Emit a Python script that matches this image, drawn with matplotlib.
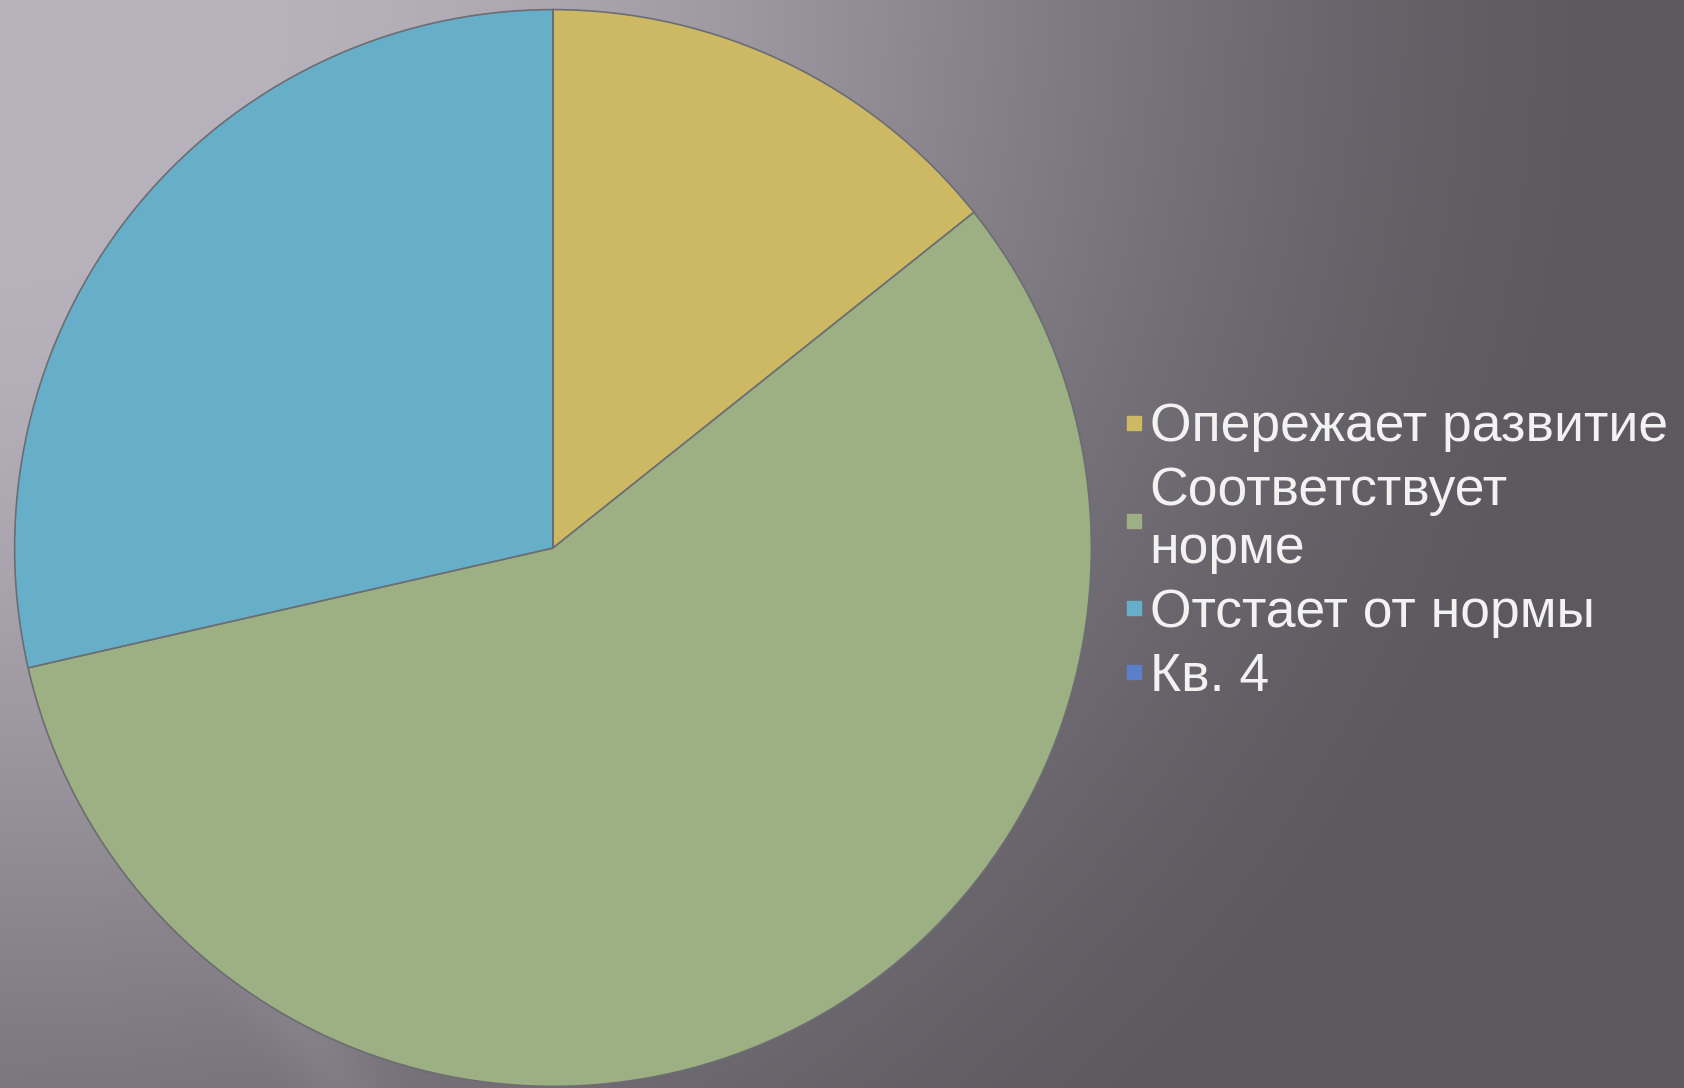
import numpy as np
import matplotlib
matplotlib.use("Agg")
import matplotlib.pyplot as plt
from matplotlib.lines import Line2D
from matplotlib.colors import to_rgb

# Data
categories = ["Опережает развитие", "Соответствует\nнорме", "Отстает от нормы", "Кв. 4"]
values = [4, 16, 8, 0]
colors = ["#cdb964", "#9db083", "#67afc9", "#5b7fc8"]

W, H = 1684, 1088
fig = plt.figure(figsize=(W / 100, H / 100), dpi=100)

# Background gradient (decorative)
bg = fig.add_axes([0, 0, 1, 1])
yy, xx = np.mgrid[0:H, 0:W]
d = np.sqrt((xx / 1000.0) ** 2 + (yy / 980.0) ** 2)
s = np.clip((d - 0.2) / 1.5, 0, 1)
t = 3 * s ** 2 - 2 * s ** 3
# faint diagonal light streak at lower left
streak = np.exp(-(((xx - yy * 0.62) - (-330)) / 45.0) ** 2) * 0.10 * (yy > 700)
light = np.array(to_rgb("#b8b2bc"))
dark = np.array(to_rgb("#5c585e"))
img = light[None, None, :] * (1 - t[..., None]) + dark[None, None, :] * t[..., None]
img = np.clip(img + streak[..., None] * (light - dark)[None, None, :], 0, 1)
bg.imshow(img, extent=[0, 1, 0, 1], aspect="auto", origin="upper")
bg.axis("off")

# Pie
cx, cy, r = 553, 548, 540
ax = fig.add_axes([(cx - r) / W, (H - cy - r) / H, 2 * r / W, 2 * r / H])
ax.pie(values, colors=colors, startangle=90, counterclock=False, radius=1.0,
       wedgeprops=dict(edgecolor="#6b6d72", linewidth=1.2))
ax.set_xlim(-1.003, 1.003)
ax.set_ylim(-1.003, 1.003)
ax.set_aspect("equal")
ax.axis("off")

# Legend
handles = [Line2D([0], [0], marker="s", linestyle="none", markersize=9.5,
                  markerfacecolor=c, markeredgecolor=c) for c in colors]
leg = fig.legend(handles, categories, loc="center left",
                 bbox_to_anchor=(1123 / W, 1 - 552 / H), frameon=False,
                 prop={"family": ["Liberation Sans", "DejaVu Sans"], "size": 38.5},
                 labelcolor="#f2f2f2", handlelength=0.4, handletextpad=0.1,
                 labelspacing=0.26, borderaxespad=0, borderpad=0)
for txt in leg.get_texts():
    txt.set_linespacing(1.2)

fig.savefig("out.png", dpi=100)
